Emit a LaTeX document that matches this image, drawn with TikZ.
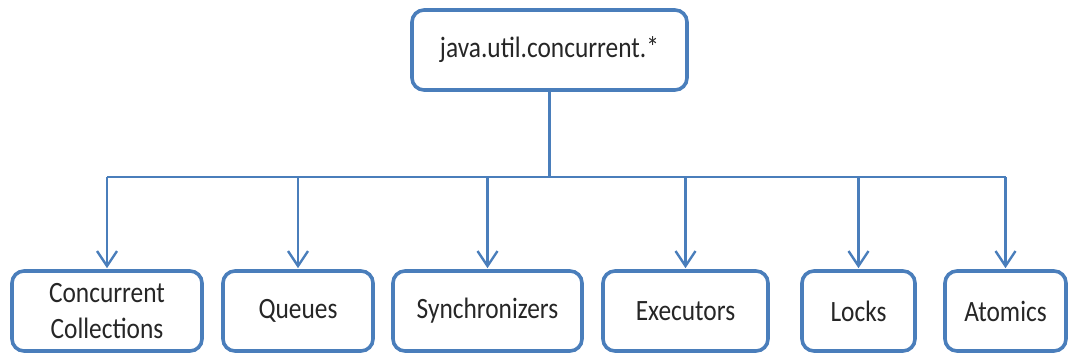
\documentclass[tikz,border=0pt]{standalone}
\usepackage{fontspec}
\setmainfont{Carlito}
\usepackage{graphicx}
\usetikzlibrary{arrows.meta}
\definecolor{edgeblue}{HTML}{4A7EBB}
\definecolor{labelgray}{HTML}{262626}
% narrow the Calibri-like labels a little
\newcommand{\nar}[1]{\raisebox{-2pt}{\scalebox{0.86}[1]{#1}}}
\begin{document}
\begin{tikzpicture}[x=1pt,y=-1pt,
  box/.style={draw=edgeblue, line width=3.6pt, rounded corners=12pt, fill=white,
    text=labelgray, font=\fontsize{29.5}{36}\selectfont, align=center,
    minimum height=80pt, inner sep=0pt},
  link/.style={draw=edgeblue, line width=2.4pt},
  arr/.style={link, -{Straight Barb[length=15pt,width=20pt,line width=2.4pt]}, shorten >=1pt}]
\useasboundingbox (0,0) rectangle (1068,356);

\node[box, minimum width=275pt] (top) at (549.5,50) {\nar{java.util.concurrent.*}};

\node[box, minimum width=190pt] (b1) at (107,311) {\nar{Concurrent}\\\nar{Collections}};
\node[box, minimum width=150pt] (b2) at (298,311) {\nar{Queues}};
\node[box, minimum width=189pt] (b3) at (487.5,311) {\nar{Synchronizers}};
\node[box, minimum width=165pt] (b4) at (685.5,311) {\nar{Executors}};
\node[box, minimum width=113pt] (b5) at (858.5,311) {\nar{Locks}};
\node[box, minimum width=121pt] (b6) at (1005.5,311) {\nar{Atomics}};

\coordinate (bus) at (549,177);
\draw[link] (top.south) -- (top.south |- bus);
\draw[link] (b1.north |- bus) -- (b6.north |- bus);
\foreach \i in {1,...,6}
  \draw[arr] (b\i.north |- bus) -- (b\i.north);
\end{tikzpicture}
\end{document}
